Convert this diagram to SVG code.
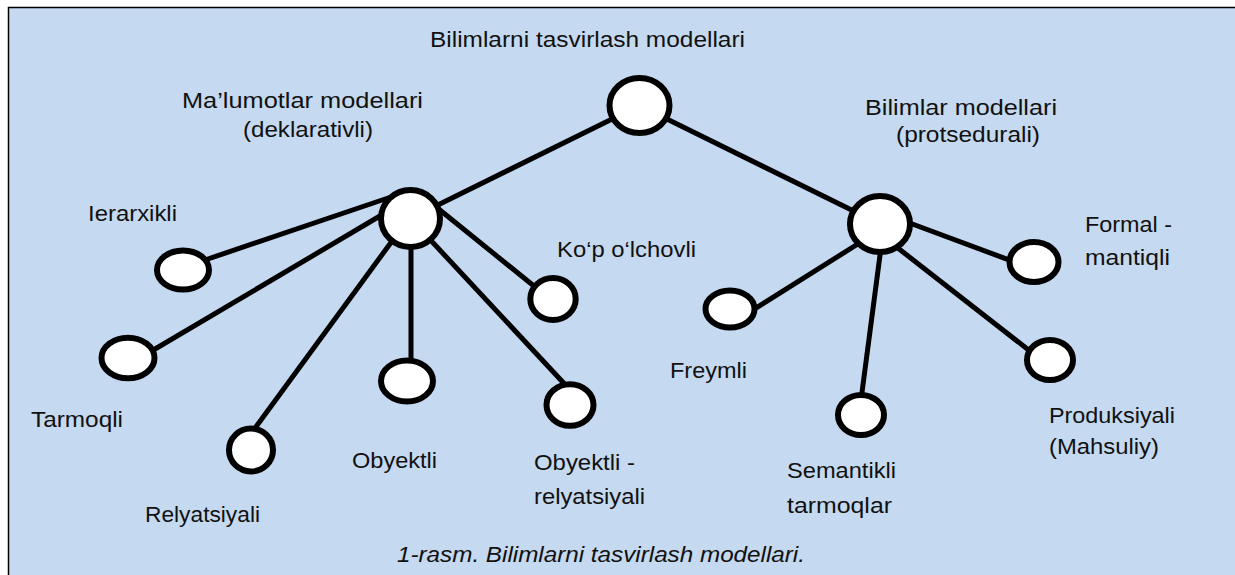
<svg xmlns="http://www.w3.org/2000/svg" width="1235" height="575" viewBox="0 0 1235 575">
<style>
.bg{fill:#c5d9f0;stroke:none}
.edge{stroke:#000;stroke-width:5;stroke-linecap:butt;fill:none}
.node{fill:#fff;stroke:#000;stroke-width:6}
.t{font-family:"Liberation Sans",Arial,sans-serif;font-size:22px;fill:#111}
.cap{font-style:italic}
</style>
<rect x="0" y="0" width="1235" height="575" fill="#fff"/>
<rect class="bg" x="8" y="7" width="1227" height="568"/>
<path d="M8.5,575 V7.5 H1235" fill="none" stroke="#000" stroke-width="1.5"/>
<g id="connectors">
<line class="edge" x1="639.5" y1="105.5" x2="410.5" y2="218.5"/>
<line class="edge" x1="639.5" y1="105.5" x2="880" y2="224"/>
<line class="edge" x1="205" y1="260" x2="394" y2="196"/>
<line class="edge" x1="150" y1="352" x2="385" y2="213"/>
<line class="edge" x1="250" y1="435" x2="395" y2="237"/>
<line class="edge" x1="411" y1="220" x2="411" y2="365"/>
<line class="edge" x1="410" y1="218" x2="572" y2="392"/>
<line class="edge" x1="430" y1="202" x2="545" y2="295"/>
<line class="edge" x1="745" y1="315" x2="880" y2="230"/>
<line class="edge" x1="880" y1="212" x2="1020" y2="264"/>
<line class="edge" x1="885" y1="238" x2="1035" y2="355"/>
<line class="edge" x1="882" y1="240" x2="861" y2="400"/>
</g>
<g id="root"><ellipse class="node" cx="639.5" cy="105.5" rx="30" ry="27.5"/><text class="t" x="430" y="47" textLength="315" lengthAdjust="spacingAndGlyphs">Bilimlarni tasvirlash modellari</text></g>
<g id="malumotlar"><ellipse class="node" cx="410.5" cy="218.5" rx="29.5" ry="28.5"/><text class="t" x="182" y="108" textLength="241" lengthAdjust="spacingAndGlyphs">Ma’lumotlar modellari</text><text class="t" x="243" y="137" textLength="130" lengthAdjust="spacingAndGlyphs">(deklarativli)</text></g>
<g id="bilimlar"><ellipse class="node" cx="880" cy="224" rx="30" ry="28"/><text class="t" x="865" y="115" textLength="192" lengthAdjust="spacingAndGlyphs">Bilimlar modellari</text><text class="t" x="896" y="142" textLength="144" lengthAdjust="spacingAndGlyphs">(protsedurali)</text></g>
<g id="ierarxikli"><ellipse class="node" cx="183" cy="270" rx="26" ry="19.5"/><text class="t" x="88" y="221" textLength="89" lengthAdjust="spacingAndGlyphs">Ierarxikli</text></g>
<g id="tarmoqli"><ellipse class="node" cx="128" cy="358" rx="26.5" ry="20.3"/><text class="t" x="31" y="427" textLength="92" lengthAdjust="spacingAndGlyphs">Tarmoqli</text></g>
<g id="relyatsiyali"><ellipse class="node" cx="251" cy="450" rx="22" ry="21.5"/><text class="t" x="145" y="522" textLength="115" lengthAdjust="spacingAndGlyphs">Relyatsiyali</text></g>
<g id="obyektli"><ellipse class="node" cx="407" cy="381" rx="26" ry="20.5"/><text class="t" x="352" y="468" textLength="85" lengthAdjust="spacingAndGlyphs">Obyektli</text></g>
<g id="obyektli-relyatsiyali"><ellipse class="node" cx="570" cy="405" rx="23.5" ry="20.7"/><text class="t" x="534" y="470" textLength="101" lengthAdjust="spacingAndGlyphs">Obyektli -</text><text class="t" x="534" y="504" textLength="111" lengthAdjust="spacingAndGlyphs">relyatsiyali</text></g>
<g id="kop-olchovli"><ellipse class="node" cx="553" cy="299" rx="22.7" ry="21"/><text class="t" x="557" y="257" textLength="139" lengthAdjust="spacingAndGlyphs">Ko‘p o‘lchovli</text></g>
<g id="freymli"><ellipse class="node" cx="730" cy="309" rx="24.5" ry="18.5"/><text class="t" x="670" y="378" textLength="77" lengthAdjust="spacingAndGlyphs">Freymli</text></g>
<g id="semantikli"><ellipse class="node" cx="861" cy="415" rx="23" ry="20"/><text class="t" x="787" y="478" textLength="109" lengthAdjust="spacingAndGlyphs">Semantikli</text><text class="t" x="787" y="513" textLength="105" lengthAdjust="spacingAndGlyphs">tarmoqlar</text></g>
<g id="produksiyali"><ellipse class="node" cx="1050" cy="360" rx="23" ry="20"/><text class="t" x="1049" y="423" textLength="126" lengthAdjust="spacingAndGlyphs">Produksiyali</text><text class="t" x="1049" y="454" textLength="110" lengthAdjust="spacingAndGlyphs">(Mahsuliy)</text></g>
<g id="formal-mantiqli"><ellipse class="node" cx="1034" cy="262" rx="24.5" ry="20"/><text class="t" x="1085" y="232" textLength="87" lengthAdjust="spacingAndGlyphs">Formal -</text><text class="t" x="1085" y="265" textLength="85" lengthAdjust="spacingAndGlyphs">mantiqli</text></g>
<g id="caption"><text class="t cap" x="397" y="562" textLength="408" lengthAdjust="spacingAndGlyphs">1-rasm. Bilimlarni tasvirlash modellari.</text></g>
</svg>
